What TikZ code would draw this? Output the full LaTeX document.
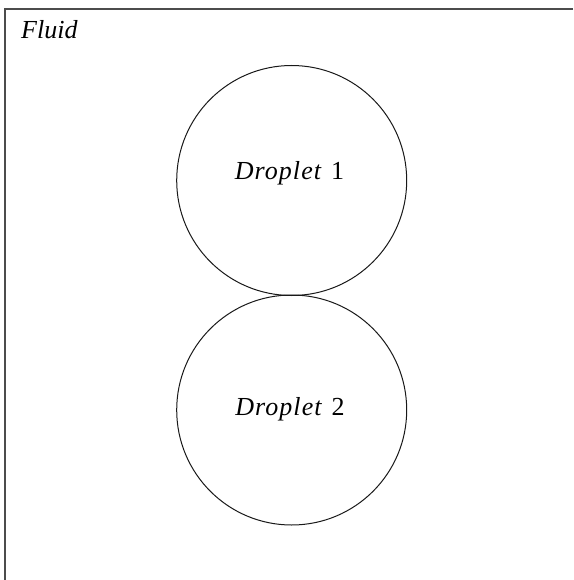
\documentclass[tikz,border=0pt]{standalone}
\usepackage{fontspec}
\setmainfont{Liberation Serif}
\newfontfamily\dropfont[LetterSpace=4]{Liberation Serif}
\begin{document}
\begin{tikzpicture}[x=1pt,y=-1pt,
  drop/.style={circle,draw=black!90,line width=1pt,minimum size=230pt,inner sep=0pt},
  lbl/.style={font=\fontsize{26}{30}\selectfont,inner sep=0pt,anchor=base},
  frame/.style={draw=black!70,line width=1.1pt}]
\useasboundingbox (0,0) rectangle (573,580);
\coordinate (tl) at (5,9);
\coordinate (tr) at (573,9);
\coordinate (bl) at (5,580);
\draw[frame] (tr) -- (tl) -- (bl);
\node[lbl,anchor=base west] (fluid) at (21,38.5) {\textit{Fluid}};
\node[drop] (d1) at (291.7,180.5) {};
\node[drop] (d2) at (291.7,410) {};
\node[lbl] (t1) at (289.5,179.5) {{\dropfont\itshape Droplet}\hspace{10pt}1};
\node[lbl] (t2) at (290,415.5) {{\dropfont\itshape Droplet}\hspace{10pt}2};
\end{tikzpicture}
\end{document}
